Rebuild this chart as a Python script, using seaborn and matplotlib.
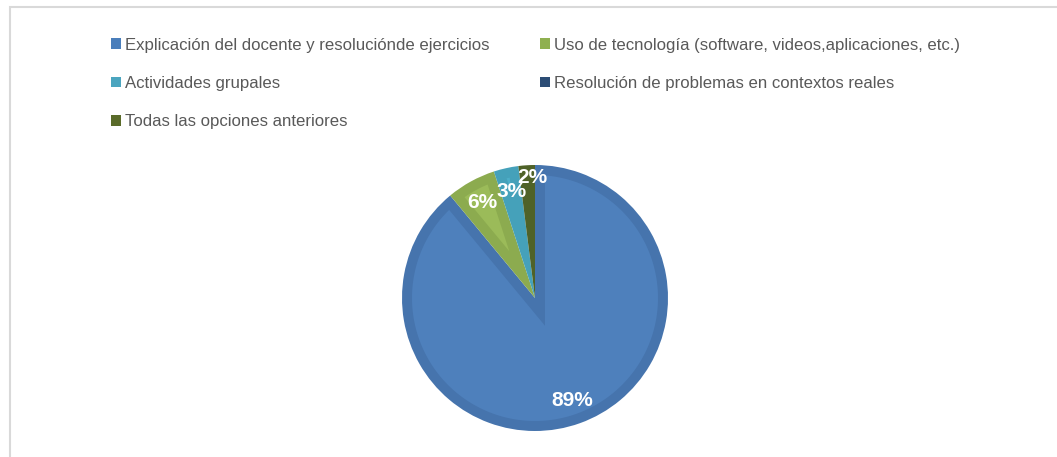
"""
Pie chart: metodologia preferida (porcentajes), estilo Excel.
"""
import matplotlib
matplotlib.use("Agg")
import matplotlib.pyplot as plt
import matplotlib.patches as mpatches
import seaborn as sns
import numpy as np

categories = ["Explicación del docente y resoluciónde ejercicios",
              "Uso de tecnología (software, videos,aplicaciones, etc.)",
              "Actividades grupales",
              "Resolución de problemas en contextos reales",
              "Todas las opciones anteriores"]
percent = [89, 6, 3, 0, 2]

fill_colors = ["#4E80BC", "#9BBB59", "#4DAEC8", "#2C4D75", "#4F6228"]
edge_colors = ["#4674AD", "#8CAB4F", "#45A1BA", "#263F60", "#4F6228"]
legend_colors = ["#4A7EBB", "#8FB050", "#4BA5BF", "#2C4D75", "#5A6B2A"]

sns.set_theme(style="white")
plt.rcParams['font.family'] = ['Liberation Sans', 'DejaVu Sans']

fig = plt.figure(figsize=(10.57, 4.57), dpi=100)

# gray chart frame like the Excel chart area
frame = mpatches.Rectangle((10 / 1057, -0.05), 1.1, (457 - 7) / 457 + 0.05,
                           transform=fig.transFigure, fill=False,
                           edgecolor="#D9D9D9", linewidth=1.5)
fig.add_artist(frame)

ax = fig.add_axes([(535 - 133) / 1057, (159 - 133) / 457, 266 / 1057, 266 / 457])


def fmt(p):
    return "" if p < 0.5 else f"{p:.0f}%"


wedges, texts, autotexts = ax.pie(percent, colors=edge_colors, startangle=90,
                                  counterclock=False, autopct=fmt,
                                  pctdistance=0.82, radius=1.0,
                                  wedgeprops=dict(linewidth=0),
                                  textprops=dict(color="white", fontsize=15,
                                                 fontweight="bold"))

# inner (lighter) part of every slice, inset by a fixed band like Excel's bevel
band = 10 / 133
for w, fc in zip(wedges, fill_colors):
    t1, t2 = w.theta1, w.theta2
    span = np.radians(t2 - t1)
    delta = np.degrees(np.arcsin(band / (w.r - band)))
    if t2 - t1 <= 2 * delta:
        continue
    mid = np.radians((t1 + t2) / 2)
    apex_d = band / np.sin(span / 2)
    apex = (apex_d * np.cos(mid), apex_d * np.sin(mid))
    arc = np.radians(np.linspace(t1 + delta, t2 - delta, 200))
    xs = np.concatenate([[apex[0]], (w.r - band) * np.cos(arc)])
    ys = np.concatenate([[apex[1]], (w.r - band) * np.sin(arc)])
    ax.fill(xs, ys, color=fc, linewidth=0, zorder=w.get_zorder() + 0.1)

for t in autotexts:
    t.set_zorder(5)
autotexts[4].set_position((-0.02, 0.905))
ax.set_xlim(-1, 1)
ax.set_ylim(-1, 1)
ax.set_aspect("equal")

order = [0, 2, 4, 1, 3]
handles = [mpatches.Patch(facecolor=legend_colors[i], edgecolor="none") for i in order]
labels = [categories[i] for i in order]
fig.legend(handles, labels, ncol=2, loc="upper left",
           bbox_to_anchor=(104 / 1057, 1 - 31 / 457), frameon=False,
           fontsize=12.1, labelcolor="#595959", handlelength=0.6,
           handleheight=0.6, handletextpad=0.25, labelspacing=1.38,
           columnspacing=3.0, borderaxespad=0)

fig.savefig("out.png", dpi=100)
